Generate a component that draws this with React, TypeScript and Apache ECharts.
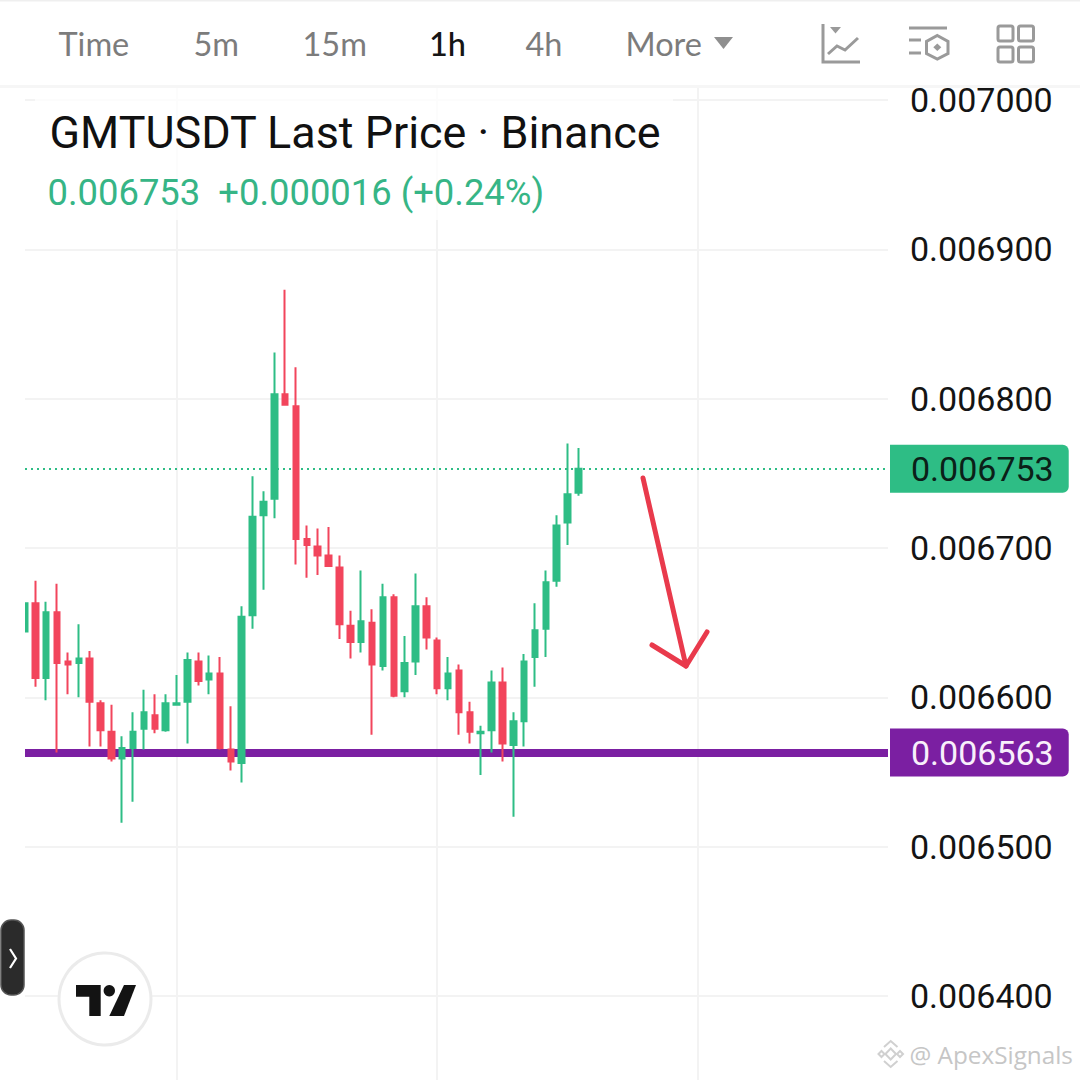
import React, { useEffect, useRef } from "react";
import * as echarts from "echarts";

// Prices are in ticks of 0.000001 USDT
const TICK = 0.000001;
const opens = [6644,6663,6613,6657,6624,6623,6626,6596,6577,6559,6566,6579,6588,6578,6595,6597,6624,6612,6616,6565,6556,6655,6722,6733,6803,6795,6706,6701,6695,6687,6648,6637,6650,6621,6667,6604,6624,6661,6638,6606,6618,6590,6576,6578,6610,6568,6584,6627,6646,6678,6717,6737];
const closes = [6663,6613,6657,6623,6622,6626,6597,6578,6559,6566,6577,6590,6579,6596,6596,6625,6611,6616,6566,6557,6654,6721,6731,6803,6796,6706,6702,6695,6688,6649,6637,6651,6622,6667,6601,6623,6661,6640,6606,6616,6590,6577,6577,6610,6569,6584,6624,6645,6677,6715,6736,6753];
const lows = [6644,6607,6598,6563,6602,6600,6567,6567,6557,6516,6530,6565,6576,6577,6595,6569,6608,6602,6565,6551,6543,6646,6672,6720,6796,6689,6680,6682,6688,6639,6626,6630,6575,6618,6600,6600,6615,6632,6602,6598,6575,6569,6548,6563,6557,6520,6567,6607,6627,6674,6702,6735];
const highs = [6663,6678,6664,6676,6630,6649,6631,6598,6595,6574,6590,6605,6602,6602,6615,6630,6630,6628,6627,6594,6661,6748,6738,6831,6873,6821,6715,6713,6714,6695,6658,6685,6659,6676,6669,6641,6683,6667,6640,6627,6622,6597,6581,6618,6620,6590,6629,6663,6685,6722,6770,6767];
const lastPrice = 6753;
const supportPrice = 6563;
const timeframes = ["Time", "5m", "15m", "1h", "4h", "More"];
const titleText = "GMTUSDT Last Price · Binance";
const quoteText = "0.006753  +0.000016 (+0.24%)";
const watermarkText = "@ ApexSignals";

const GREEN = "#2EBD85";
const RED = "#F2455C";
const PURPLE = "#7B1FA2";
const GRID = "#F3F3F3";
const ICON = "#9A9A9A";
const SANS = "Roboto";
const fmt = (v: number) => v.toFixed(6);

echarts.graphic.registerShape(
  "tvSlash",
  echarts.graphic.extendPath("M124 985 L136 985 L124 1016 L109.3 1016 Z", {})
);

function priceTag(value: number, bg: string, fg: string) {
  return {
    show: true,
    position: "end",
    distance: 2,
    formatter: () => fmt(value * TICK),
    backgroundColor: bg,
    color: fg,
    fontFamily: SANS,
    fontSize: 34,
    lineHeight: 38,
    padding: [6, 15, 4, 21],
    borderRadius: [0, 6, 6, 0],
    align: "left",
  };
}

function headerGraphics(): any[] {
  const z = 20;
  const xs = [58.5, 193.5, 302.5, 429, 525.5, 625.5];
  const tabs = timeframes.map((t, i) => ({
    type: "text",
    z,
    style: {
      text: t,
      x: xs[i],
      y: 43,
      fontFamily: "Lato",
      fontSize: 32.5,
      fontWeight: t === "1h" ? 500 : 400,
      fill: t === "1h" ? "#151515" : "#7C7C7C",
      verticalAlign: "middle",
    },
  }));
  const line = (points: number[][], w = 3, color = ICON) => ({
    type: "polyline",
    z,
    shape: { points },
    style: { stroke: color, lineWidth: w, fill: "none", lineCap: "butt", lineJoin: "miter" },
  });
  const square = (x: number, y: number) => ({
    type: "rect",
    z,
    shape: { x, y, width: 15, height: 15, r: 2 },
    style: { stroke: ICON, lineWidth: 3, fill: "#fff" },
  });
  return [
    { type: "rect", z: 19, shape: { x: 0, y: 0, width: 1080, height: 88 }, style: { fill: "#fff" } },
    { type: "rect", z: 19, shape: { x: 0, y: 85, width: 1080, height: 3 }, style: { fill: "#F6F6F6" } },
    { type: "rect", z: 19, shape: { x: 0, y: 0, width: 1080, height: 1.5 }, style: { fill: "#EFEFEF" } },
    ...tabs,
    { type: "polygon", z, shape: { points: [[714, 37], [733, 37], [723.5, 49]] }, style: { fill: "#8F8F8F" } },
    line([[823, 24], [823, 62], [860, 62]]),
    { type: "polygon", z, shape: { points: [[830, 27], [841, 27], [835.5, 33.5]] }, style: { fill: ICON } },
    line([[828, 54], [837, 46], [845, 50], [858, 38]]),
    line([[909, 28], [947, 28]]),
    line([[909, 40], [921, 40]]),
    line([[909, 53], [921, 53]]),
    { type: "polygon", z, shape: { points: [[937.3, 35.5], [948, 41.5], [948, 53.5], [937.3, 59], [926.5, 53.5], [926.5, 41.5]] }, style: { stroke: ICON, lineWidth: 3, fill: "#fff" } },
    { type: "polygon", z, shape: { points: [[937.3, 43.5], [941.3, 47.3], [937.3, 51], [933.3, 47.3]] }, style: { fill: ICON } },
    square(998, 26),
    square(1018.5, 26),
    square(998, 47),
    square(1018.5, 47),
  ];
}

function legendGraphics(): any[] {
  return [
    // the pane's left margin hides the part of the first candle that lies outside the plot
    { type: "rect", z: 3, shape: { x: 0, y: 88, width: 25, height: 992 }, style: { fill: "#fff" } },
    { type: "rect", z: 3, shape: { x: 35, y: 88, width: 638, height: 132 }, style: { fill: "rgba(255,255,255,0.72)" } },
    { type: "text", z: 4, style: { text: titleText, x: 49.5, y: 132, fontFamily: SANS, fontSize: 44.9, fill: "#111111", verticalAlign: "middle" } },
    { type: "text", z: 4, style: { text: quoteText, x: 47.5, y: 192, fontFamily: SANS, fontSize: 36.4, fill: "#36B586", verticalAlign: "middle" } },
  ];
}

function annotationGraphics(): any[] {
  const z = 6;
  const arrow = { stroke: "#E93A4C", lineWidth: 5, fill: "none", lineCap: "round", lineJoin: "round" };
  const wm = "#D0D0D0";
  return [
    { type: "polyline", z, shape: { points: [[643, 478], [686, 666]] }, style: arrow },
    { type: "polyline", z, shape: { points: [[652, 645], [686, 666], [707, 632]] }, style: arrow },
    // collapse handle
    { type: "rect", z, shape: { x: 1, y: 920, width: 23, height: 75, r: 10 }, style: { fill: "#2B2B2B", stroke: "#555555", lineWidth: 1.5 } },
    { type: "polyline", z, shape: { points: [[10, 949], [16, 958.5], [10, 968]] }, style: { stroke: "#fff", lineWidth: 2.2, fill: "none" } },
    // TradingView badge
    { type: "circle", z, shape: { cx: 105, cy: 999, r: 46 }, style: { fill: "#fff", stroke: "#EBEBEB", lineWidth: 3 } },
    { type: "polygon", z, shape: { points: [[76, 985], [100.7, 985], [100.7, 1016], [89.3, 1016], [89.3, 996.7], [76, 996.7]] }, style: { fill: "#131313" } },
    { type: "circle", z, shape: { cx: 109.3, cy: 990.7, r: 5.7 }, style: { fill: "#131313" } },
    { type: "tvSlash", z, style: { fill: "#131313" } },
    // watermark
    { type: "polygon", z, shape: { points: [[890.7, 1048.5], [896, 1054], [890.7, 1059.5], [885.4, 1054]] }, style: { stroke: wm, lineWidth: 2, fill: "#fff" } },
    { type: "polygon", z, shape: { points: [[881.5, 1051], [884.5, 1054], [881.5, 1057], [878.5, 1054]] }, style: { stroke: wm, lineWidth: 2, fill: "#fff" } },
    { type: "polygon", z, shape: { points: [[900, 1051], [903, 1054], [900, 1057], [897, 1054]] }, style: { stroke: wm, lineWidth: 2, fill: "#fff" } },
    { type: "polyline", z, shape: { points: [[884, 1047], [890.7, 1041], [897.5, 1047]] }, style: { stroke: wm, lineWidth: 2, fill: "none" } },
    { type: "polyline", z, shape: { points: [[884, 1061], [890.7, 1067], [897.5, 1061]] }, style: { stroke: wm, lineWidth: 2, fill: "none" } },
    { type: "text", z, style: { text: watermarkText, x: 909.5, y: 1054, fontFamily: "Open Sans", fontSize: 24.3, fill: "#C6C6C6", verticalAlign: "middle" } },
  ];
}

export default function App() {
  const ref = useRef<HTMLDivElement>(null);
  useEffect(() => {
    const chart = echarts.init(ref.current!, undefined, { renderer: "svg" });
    const candles = opens.map((o, i) => [i, o * TICK, closes[i] * TICK, lows[i] * TICK, highs[i] * TICK]);
    const gridTop = -49.3;
    const gridHeight = 1194.6;
    chart.setOption({
      animation: false,
      backgroundColor: "#fff",
      grid: [
        { left: 25, top: gridTop, width: 863, height: gridHeight, outerBoundsMode: "none" },
        { left: -84.16, top: gridTop, width: 972.16, height: gridHeight, outerBoundsMode: "none" },
      ],
      xAxis: [
        { type: "value", gridIndex: 0, min: 0.05, max: 79.5, show: false, splitLine: { show: false } },
        {
          type: "value",
          gridIndex: 1,
          min: 0,
          max: 89.5,
          interval: 24,
          axisLine: { show: false },
          axisTick: { show: false },
          axisLabel: { show: false },
          splitLine: { show: true, showMinLine: false, showMaxLine: false, lineStyle: { color: GRID, width: 2 } },
        },
      ],
      yAxis: [
        {
          type: "value",
          gridIndex: 0,
          position: "right",
          min: 0.0063,
          max: 0.0071,
          interval: 0.0001,
          axisLine: { show: false },
          axisTick: { show: false },
          axisLabel: {
            margin: 22,
            fontFamily: SANS,
            fontSize: 34,
            color: "#141414",
            padding: [2, 0, 0, 0],
            showMinLabel: false,
            showMaxLabel: false,
            formatter: (v: number) => fmt(v),
          },
          splitLine: { show: true, lineStyle: { color: GRID, width: 2 } },
        },
        { type: "value", gridIndex: 1, min: 0, max: 1, show: false, splitLine: { show: false } },
      ],
      series: [
        {
          type: "candlestick",
          xAxisIndex: 0,
          yAxisIndex: 0,
          barWidth: 6,
          itemStyle: { color: GREEN, color0: RED, borderColor: GREEN, borderColor0: RED, borderWidth: 2 },
          data: candles,
          markLine: {
            silent: true,
            z: 1,
            symbol: "none",
            precision: 10,
            animation: false,
            data: [
              { yAxis: supportPrice * TICK, lineStyle: { color: PURPLE, width: 8, type: "solid" }, label: priceTag(supportPrice, PURPLE, "#F8EFFB") },
              { yAxis: lastPrice * TICK, lineStyle: { color: GREEN, width: 2, type: [2, 4] }, label: priceTag(lastPrice, GREEN, "#0B2018") },
            ],
          },
        },
      ],
      graphic: { elements: [...legendGraphics(), ...annotationGraphics(), ...headerGraphics()] },
    });
    return () => chart.dispose();
  }, []);
  return <div ref={ref} style={{ position: "absolute", left: 0, top: 0, width: 1080, height: 1080 }} />;
}
